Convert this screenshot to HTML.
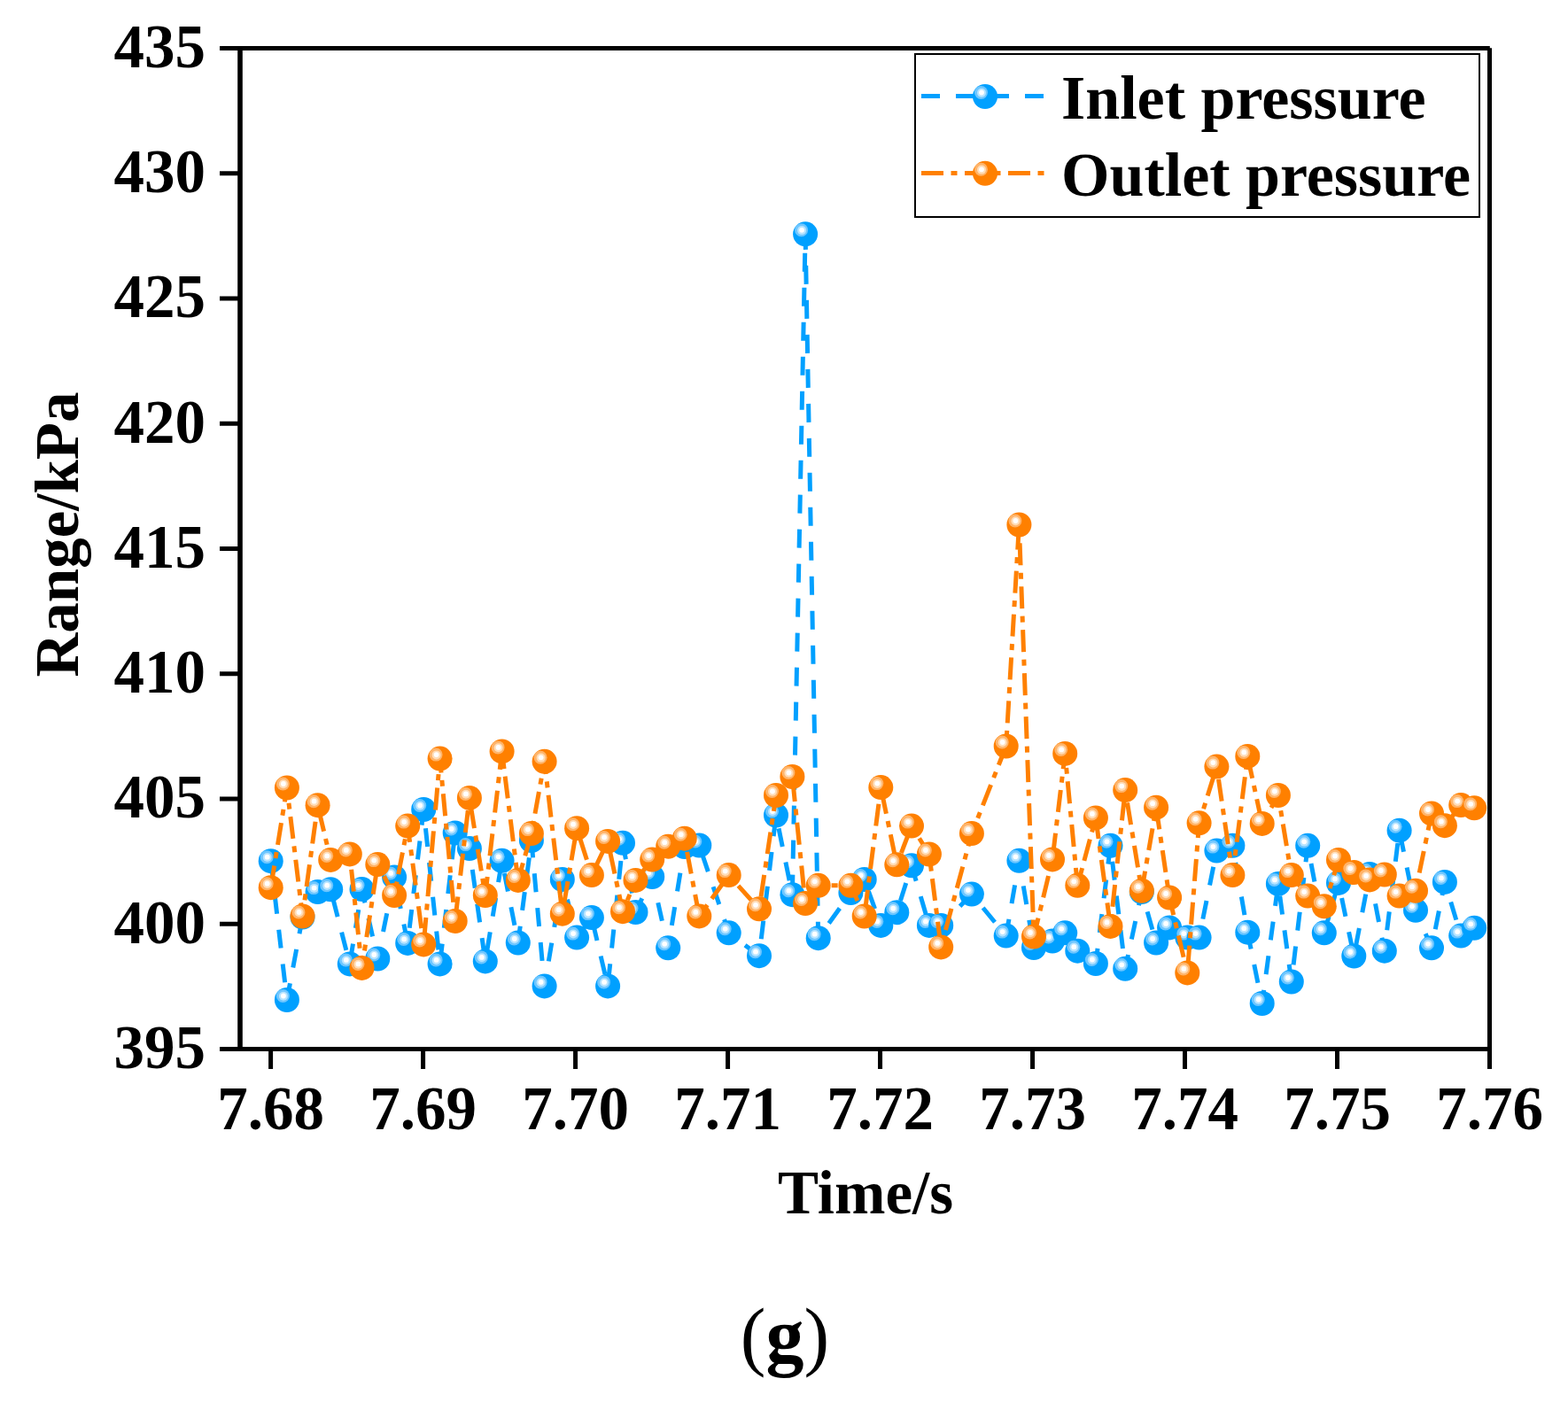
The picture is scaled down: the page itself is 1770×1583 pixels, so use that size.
<!DOCTYPE html>
<html><head><meta charset="utf-8"><title>Range vs Time</title>
<style>html,body{margin:0;padding:0;background:#fff;}svg{display:block;}</style>
</head><body>
<svg width="1770" height="1583" viewBox="0 0 1770 1583"><defs>
<g id="mb"><circle r="14" fill="#00A0FF"/><circle cx="-4.5" cy="-4.5" r="7.5" fill="#6EC6FF"/><circle cx="-4" cy="-4.2" r="5" fill="#B8E4FF"/><circle cx="-4" cy="-4.5" r="2.9" fill="#FFFFFF"/></g>
<g id="mo"><circle r="14" fill="#FF8000"/><circle cx="-4.5" cy="-4.5" r="7.5" fill="#FFB46A"/><circle cx="-4" cy="-4.2" r="5" fill="#FFDDB8"/><circle cx="-4" cy="-4.5" r="2.9" fill="#FFFFFF"/></g>
</defs>
<polyline points="305.7,972.2 323.9,1129.0 341.5,1035.5 358.6,1007.1 373.2,1004.2 394.8,1088.4 408.5,1004.1 426.3,1082.5 445.1,990.4 460.2,1064.9 478.2,914.0 496.6,1088.4 513.7,940.5 529.9,958.1 547.8,1085.4 566.6,971.8 584.8,1064.5 599.9,949.0 614.6,1113.4 634.8,993.0 651.1,1058.6 667.9,1036.1 686.1,1113.4 703.0,951.8 717.5,1030.0 736.2,990.0 754.2,1070.3 772.7,956.0 789.3,954.5 822.7,1053.3 857.0,1079.2 876.0,920.5 894.4,1010.2 909.1,264.3 923.7,1059.2 960.4,1008.0 975.7,993.0 994.3,1044.9 1012.3,1030.2 1029.0,977.3 1048.9,1044.9 1062.2,1044.9 1096.9,1009.6 1135.7,1056.6 1150.4,971.8 1167.0,1070.0 1188.0,1062.5 1202.2,1053.3 1216.3,1073.7 1236.9,1088.0 1253.5,954.8 1270.2,1093.8 1288.8,1007.0 1305.1,1064.5 1320.1,1047.4 1340.3,1058.6 1353.6,1058.6 1373.4,960.6 1391.4,954.8 1408.3,1052.7 1424.7,1133.0 1442.9,997.9 1457.8,1108.5 1476.2,954.8 1494.8,1053.3 1511.0,996.9 1528.3,1079.5 1546.1,987.0 1562.8,1073.7 1579.6,937.7 1598.0,1027.8 1616.0,1070.3 1630.9,995.9 1649.2,1056.6 1664.2,1047.8" fill="none" stroke="#00A0FF" stroke-width="5" stroke-dasharray="21 18" stroke-linejoin="round"/>
<use href="#mb" x="305.7" y="972.2"/>
<use href="#mb" x="323.9" y="1129.0"/>
<use href="#mb" x="341.5" y="1035.5"/>
<use href="#mb" x="358.6" y="1007.1"/>
<use href="#mb" x="373.2" y="1004.2"/>
<use href="#mb" x="394.8" y="1088.4"/>
<use href="#mb" x="408.5" y="1004.1"/>
<use href="#mb" x="426.3" y="1082.5"/>
<use href="#mb" x="445.1" y="990.4"/>
<use href="#mb" x="460.2" y="1064.9"/>
<use href="#mb" x="478.2" y="914.0"/>
<use href="#mb" x="496.6" y="1088.4"/>
<use href="#mb" x="513.7" y="940.5"/>
<use href="#mb" x="529.9" y="958.1"/>
<use href="#mb" x="547.8" y="1085.4"/>
<use href="#mb" x="566.6" y="971.8"/>
<use href="#mb" x="584.8" y="1064.5"/>
<use href="#mb" x="599.9" y="949.0"/>
<use href="#mb" x="614.6" y="1113.4"/>
<use href="#mb" x="634.8" y="993.0"/>
<use href="#mb" x="651.1" y="1058.6"/>
<use href="#mb" x="667.9" y="1036.1"/>
<use href="#mb" x="686.1" y="1113.4"/>
<use href="#mb" x="703.0" y="951.8"/>
<use href="#mb" x="717.5" y="1030.0"/>
<use href="#mb" x="736.2" y="990.0"/>
<use href="#mb" x="754.2" y="1070.3"/>
<use href="#mb" x="772.7" y="956.0"/>
<use href="#mb" x="789.3" y="954.5"/>
<use href="#mb" x="822.7" y="1053.3"/>
<use href="#mb" x="857.0" y="1079.2"/>
<use href="#mb" x="876.0" y="920.5"/>
<use href="#mb" x="894.4" y="1010.2"/>
<use href="#mb" x="909.1" y="264.3"/>
<use href="#mb" x="923.7" y="1059.2"/>
<use href="#mb" x="960.4" y="1008.0"/>
<use href="#mb" x="975.7" y="993.0"/>
<use href="#mb" x="994.3" y="1044.9"/>
<use href="#mb" x="1012.3" y="1030.2"/>
<use href="#mb" x="1029.0" y="977.3"/>
<use href="#mb" x="1048.9" y="1044.9"/>
<use href="#mb" x="1062.2" y="1044.9"/>
<use href="#mb" x="1096.9" y="1009.6"/>
<use href="#mb" x="1135.7" y="1056.6"/>
<use href="#mb" x="1150.4" y="971.8"/>
<use href="#mb" x="1167.0" y="1070.0"/>
<use href="#mb" x="1188.0" y="1062.5"/>
<use href="#mb" x="1202.2" y="1053.3"/>
<use href="#mb" x="1216.3" y="1073.7"/>
<use href="#mb" x="1236.9" y="1088.0"/>
<use href="#mb" x="1253.5" y="954.8"/>
<use href="#mb" x="1270.2" y="1093.8"/>
<use href="#mb" x="1288.8" y="1007.0"/>
<use href="#mb" x="1305.1" y="1064.5"/>
<use href="#mb" x="1320.1" y="1047.4"/>
<use href="#mb" x="1340.3" y="1058.6"/>
<use href="#mb" x="1353.6" y="1058.6"/>
<use href="#mb" x="1373.4" y="960.6"/>
<use href="#mb" x="1391.4" y="954.8"/>
<use href="#mb" x="1408.3" y="1052.7"/>
<use href="#mb" x="1424.7" y="1133.0"/>
<use href="#mb" x="1442.9" y="997.9"/>
<use href="#mb" x="1457.8" y="1108.5"/>
<use href="#mb" x="1476.2" y="954.8"/>
<use href="#mb" x="1494.8" y="1053.3"/>
<use href="#mb" x="1511.0" y="996.9"/>
<use href="#mb" x="1528.3" y="1079.5"/>
<use href="#mb" x="1546.1" y="987.0"/>
<use href="#mb" x="1562.8" y="1073.7"/>
<use href="#mb" x="1579.6" y="937.7"/>
<use href="#mb" x="1598.0" y="1027.8"/>
<use href="#mb" x="1616.0" y="1070.3"/>
<use href="#mb" x="1630.9" y="995.9"/>
<use href="#mb" x="1649.2" y="1056.6"/>
<use href="#mb" x="1664.2" y="1047.8"/>
<polyline points="305.7,1002.2 323.9,889.5 341.5,1034.5 358.6,909.2 373.2,970.9 394.8,964.4 408.5,1092.9 426.3,976.1 445.1,1011.0 460.2,932.6 478.2,1066.4 496.6,856.6 513.7,1040.0 529.9,900.9 547.8,1011.0 566.6,848.4 584.8,993.9 599.9,941.1 614.6,859.8 634.8,1031.7 651.1,935.2 667.9,988.1 686.1,949.9 703.0,1029.2 717.5,993.9 736.2,970.6 754.2,955.7 772.7,946.7 789.3,1034.4 822.7,988.1 857.0,1026.3 876.0,898.0 894.4,877.0 909.1,1020.0 923.7,999.8 960.4,999.8 975.7,1034.5 994.3,889.1 1012.3,976.3 1029.0,932.6 1048.9,964.5 1062.2,1069.4 1096.9,941.1 1135.7,842.5 1150.4,592.5 1167.0,1057.5 1188.0,970.4 1202.2,850.9 1216.3,999.8 1236.9,923.4 1253.5,1045.9 1270.2,892.1 1288.8,1005.7 1305.1,911.7 1320.1,1013.5 1340.3,1098.4 1353.6,929.3 1373.4,865.6 1391.4,988.1 1408.3,853.9 1424.7,929.9 1442.9,898.0 1457.8,988.1 1476.2,1011.6 1494.8,1023.3 1511.0,971.0 1528.3,985.1 1546.1,993.4 1562.8,987.5 1579.6,1011.6 1598.0,1005.7 1616.0,918.5 1630.9,932.2 1649.2,909.1 1664.2,912.3" fill="none" stroke="#FF8000" stroke-width="5" stroke-dasharray="25 8.5 7 8.5" stroke-linejoin="round"/>
<use href="#mo" x="305.7" y="1002.2"/>
<use href="#mo" x="323.9" y="889.5"/>
<use href="#mo" x="341.5" y="1034.5"/>
<use href="#mo" x="358.6" y="909.2"/>
<use href="#mo" x="373.2" y="970.9"/>
<use href="#mo" x="394.8" y="964.4"/>
<use href="#mo" x="408.5" y="1092.9"/>
<use href="#mo" x="426.3" y="976.1"/>
<use href="#mo" x="445.1" y="1011.0"/>
<use href="#mo" x="460.2" y="932.6"/>
<use href="#mo" x="478.2" y="1066.4"/>
<use href="#mo" x="496.6" y="856.6"/>
<use href="#mo" x="513.7" y="1040.0"/>
<use href="#mo" x="529.9" y="900.9"/>
<use href="#mo" x="547.8" y="1011.0"/>
<use href="#mo" x="566.6" y="848.4"/>
<use href="#mo" x="584.8" y="993.9"/>
<use href="#mo" x="599.9" y="941.1"/>
<use href="#mo" x="614.6" y="859.8"/>
<use href="#mo" x="634.8" y="1031.7"/>
<use href="#mo" x="651.1" y="935.2"/>
<use href="#mo" x="667.9" y="988.1"/>
<use href="#mo" x="686.1" y="949.9"/>
<use href="#mo" x="703.0" y="1029.2"/>
<use href="#mo" x="717.5" y="993.9"/>
<use href="#mo" x="736.2" y="970.6"/>
<use href="#mo" x="754.2" y="955.7"/>
<use href="#mo" x="772.7" y="946.7"/>
<use href="#mo" x="789.3" y="1034.4"/>
<use href="#mo" x="822.7" y="988.1"/>
<use href="#mo" x="857.0" y="1026.3"/>
<use href="#mo" x="876.0" y="898.0"/>
<use href="#mo" x="894.4" y="877.0"/>
<use href="#mo" x="909.1" y="1020.0"/>
<use href="#mo" x="923.7" y="999.8"/>
<use href="#mo" x="960.4" y="999.8"/>
<use href="#mo" x="975.7" y="1034.5"/>
<use href="#mo" x="994.3" y="889.1"/>
<use href="#mo" x="1012.3" y="976.3"/>
<use href="#mo" x="1029.0" y="932.6"/>
<use href="#mo" x="1048.9" y="964.5"/>
<use href="#mo" x="1062.2" y="1069.4"/>
<use href="#mo" x="1096.9" y="941.1"/>
<use href="#mo" x="1135.7" y="842.5"/>
<use href="#mo" x="1150.4" y="592.5"/>
<use href="#mo" x="1167.0" y="1057.5"/>
<use href="#mo" x="1188.0" y="970.4"/>
<use href="#mo" x="1202.2" y="850.9"/>
<use href="#mo" x="1216.3" y="999.8"/>
<use href="#mo" x="1236.9" y="923.4"/>
<use href="#mo" x="1253.5" y="1045.9"/>
<use href="#mo" x="1270.2" y="892.1"/>
<use href="#mo" x="1288.8" y="1005.7"/>
<use href="#mo" x="1305.1" y="911.7"/>
<use href="#mo" x="1320.1" y="1013.5"/>
<use href="#mo" x="1340.3" y="1098.4"/>
<use href="#mo" x="1353.6" y="929.3"/>
<use href="#mo" x="1373.4" y="865.6"/>
<use href="#mo" x="1391.4" y="988.1"/>
<use href="#mo" x="1408.3" y="853.9"/>
<use href="#mo" x="1424.7" y="929.9"/>
<use href="#mo" x="1442.9" y="898.0"/>
<use href="#mo" x="1457.8" y="988.1"/>
<use href="#mo" x="1476.2" y="1011.6"/>
<use href="#mo" x="1494.8" y="1023.3"/>
<use href="#mo" x="1511.0" y="971.0"/>
<use href="#mo" x="1528.3" y="985.1"/>
<use href="#mo" x="1546.1" y="993.4"/>
<use href="#mo" x="1562.8" y="987.5"/>
<use href="#mo" x="1579.6" y="1011.6"/>
<use href="#mo" x="1598.0" y="1005.7"/>
<use href="#mo" x="1616.0" y="918.5"/>
<use href="#mo" x="1630.9" y="932.2"/>
<use href="#mo" x="1649.2" y="909.1"/>
<use href="#mo" x="1664.2" y="912.3"/>
<g stroke="#000" stroke-width="5" fill="none" stroke-linecap="butt">
<line x1="248" y1="54.5" x2="1681.8" y2="54.5"/>
<line x1="248" y1="1184.5" x2="1684.0" y2="1184.5"/>
<line x1="271.0" y1="52.0" x2="271.0" y2="1187.0" stroke-width="5.6"/>
<line x1="1681.5" y1="54.2" x2="1681.5" y2="1207"/>
<line x1="248" y1="1184.50" x2="271.0" y2="1184.50"/>
<line x1="248" y1="1043.25" x2="271.0" y2="1043.25"/>
<line x1="248" y1="902.00" x2="271.0" y2="902.00"/>
<line x1="248" y1="760.75" x2="271.0" y2="760.75"/>
<line x1="248" y1="619.50" x2="271.0" y2="619.50"/>
<line x1="248" y1="478.25" x2="271.0" y2="478.25"/>
<line x1="248" y1="337.00" x2="271.0" y2="337.00"/>
<line x1="248" y1="195.75" x2="271.0" y2="195.75"/>
<line x1="248" y1="54.50" x2="271.0" y2="54.50"/>
<line x1="305.60" y1="1184.5" x2="305.60" y2="1207"/>
<line x1="477.59" y1="1184.5" x2="477.59" y2="1207"/>
<line x1="649.57" y1="1184.5" x2="649.57" y2="1207"/>
<line x1="821.56" y1="1184.5" x2="821.56" y2="1207"/>
<line x1="993.55" y1="1184.5" x2="993.55" y2="1207"/>
<line x1="1165.54" y1="1184.5" x2="1165.54" y2="1207"/>
<line x1="1337.52" y1="1184.5" x2="1337.52" y2="1207"/>
<line x1="1509.51" y1="1184.5" x2="1509.51" y2="1207"/>
<line x1="1681.50" y1="1184.5" x2="1681.50" y2="1207"/>
</g>
<g font-family="Liberation Serif, Times New Roman, serif" font-weight="bold" font-size="69" fill="#000">
<text x="232" y="1205.9" text-anchor="end">395</text>
<text x="232" y="1064.7" text-anchor="end">400</text>
<text x="232" y="923.4" text-anchor="end">405</text>
<text x="232" y="782.1" text-anchor="end">410</text>
<text x="232" y="640.9" text-anchor="end">415</text>
<text x="232" y="499.6" text-anchor="end">420</text>
<text x="232" y="358.4" text-anchor="end">425</text>
<text x="232" y="217.2" text-anchor="end">430</text>
<text x="232" y="75.9" text-anchor="end">435</text>
<text x="305.6" y="1275" text-anchor="middle">7.68</text>
<text x="477.6" y="1275" text-anchor="middle">7.69</text>
<text x="649.6" y="1275" text-anchor="middle">7.70</text>
<text x="821.6" y="1275" text-anchor="middle">7.71</text>
<text x="993.6" y="1275" text-anchor="middle">7.72</text>
<text x="1165.5" y="1275" text-anchor="middle">7.73</text>
<text x="1337.5" y="1275" text-anchor="middle">7.74</text>
<text x="1509.5" y="1275" text-anchor="middle">7.75</text>
<text x="1681.5" y="1275" text-anchor="middle">7.76</text>
<text x="977" y="1369.8" text-anchor="middle">Time/s</text>
<text transform="translate(87.8,603.5) rotate(-90)" text-anchor="middle">Range/kPa</text>
</g>
<rect x="1033" y="61" width="637" height="184" fill="#fff" stroke="#000" stroke-width="2"/>
<line x1="1040" y1="108.5" x2="1178" y2="108.5" stroke="#00A0FF" stroke-width="5" stroke-dasharray="21 18"/>
<use href="#mb" x="1112.0" y="109.0"/>
<line x1="1040" y1="195.5" x2="1178.5" y2="195.5" stroke="#FF8000" stroke-width="5" stroke-dasharray="25 8.5 7 8.5"/>
<use href="#mo" x="1112.0" y="195.8"/>
<g font-family="Liberation Serif, Times New Roman, serif" font-weight="bold" font-size="70" fill="#000">
<text x="1198" y="133.8">Inlet pressure</text>
<text x="1198" y="220.5">Outlet pressure</text>
</g>
<text x="886" y="1537" text-anchor="middle" font-family="Liberation Serif, Times New Roman, serif" font-size="86" fill="#000">(<tspan font-weight="bold">g</tspan>)</text></svg>
</body></html>
